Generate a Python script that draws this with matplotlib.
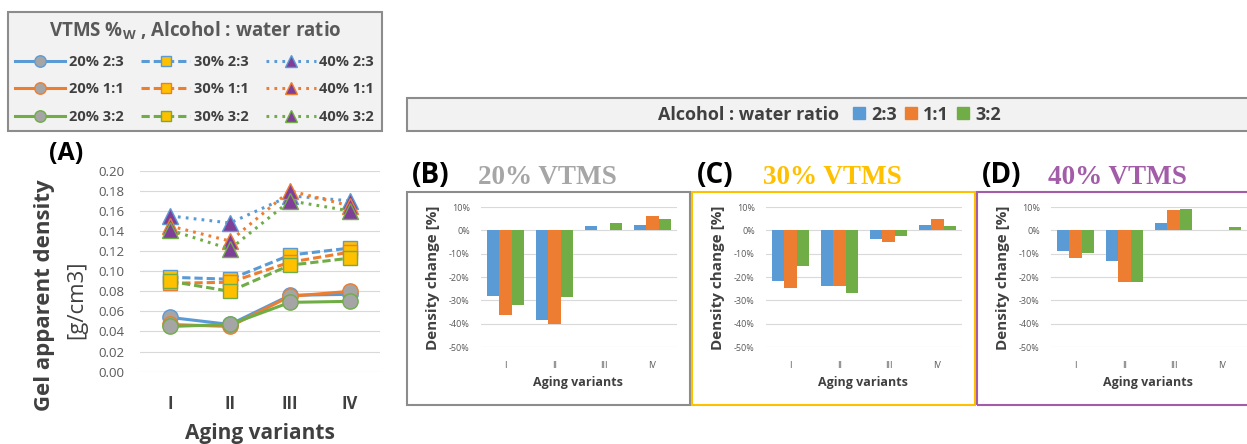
import numpy as np
import matplotlib.pyplot as plt
from matplotlib.patches import Rectangle, Patch

plt.rcParams['font.family'] = ['Open Sans', 'DejaVu Sans']

# ---- data ----
variants = ['I', 'II', 'III', 'IV']
ratios = ['2:3', '1:1', '3:2']

# (A) gel apparent density [g/cm3]; rows = 2:3, 1:1, 3:2
dens_20 = [[0.054, 0.047, 0.076, 0.077],
           [0.047, 0.045, 0.075, 0.080],
           [0.045, 0.047, 0.069, 0.070]]
dens_30 = [[0.094, 0.092, 0.116, 0.123],
           [0.088, 0.089, 0.109, 0.119],
           [0.090, 0.080, 0.106, 0.113]]
dens_40 = [[0.155, 0.148, 0.175, 0.170],
           [0.145, 0.130, 0.180, 0.165],
           [0.141, 0.122, 0.170, 0.160]]

# (B)-(D) density change [%]; rows = 2:3, 1:1, 3:2
chg_20 = [[-28.1, -38.3, 1.7, 2.3],
          [-36.4, -40.3, 0.0, 6.1],
          [-32.1, -28.6, 3.1, 4.7]]
chg_30 = [[-21.9, -24.0, -3.9, 2.1],
          [-24.6, -23.7, -5.0, 4.7],
          [-15.4, -26.7, -2.6, 1.7]]
chg_40 = [[-8.9, -13.3, 3.3, 0.0],
          [-11.7, -22.1, 8.9, 0.0],
          [-9.7, -22.3, 9.0, 1.6]]

colors = ['#5b9bd5', '#ed7d31', '#70ad47']
W, H = 1247, 444


def box(x0, y0, x1, y1):
    # pixel box (top-left origin) -> figure fraction
    return [x0 / W, 1 - y1 / H, (x1 - x0) / W, (y1 - y0) / H]


fig = plt.figure(figsize=(12.47, 4.44), dpi=100)

# ---- panel A ----
axA = fig.add_axes(box(140, 170.7, 380, 371.7))
x = np.arange(len(variants))
groups = [('20%', dens_20, '-', 'o', '#a5a5a5', 11),
          ('30%', dens_30, (0, (2.7, 1.3)), 's', '#ffc000', 10),
          ('40%', dens_40, (0, (0.9, 1.7)), '^', '#7f3f98', 11)]
handles, labels = [], []
for pct, rows, ls, mk, mfc, ms in groups:
    for j, c in enumerate(colors):
        ln, = axA.plot(x, rows[j], linestyle=ls, color=c, lw=2.2, marker=mk,
                       ms=ms, mfc=mfc, mec=c, mew=1, clip_on=False)
        handles.append(ln)
        labels.append(f'{pct} {ratios[j]}')
axA.set_xlim(-0.5, 3.5)
axA.set_ylim(0, 0.2)
axA.set_yticks(np.arange(0, 0.201, 0.02))
axA.set_yticklabels([f'{v:.2f}' for v in np.arange(0, 0.201, 0.02)])
axA.set_xticks(x)
axA.set_xticklabels(variants, fontsize=12, fontweight='bold', color='#404040')
axA.tick_params(axis='y', length=0, pad=11, labelsize=9.5, labelcolor='#595959')
axA.tick_params(axis='x', length=0, pad=17)
axA.grid(axis='y', color='#d9d9d9', lw=0.8)
axA.set_axisbelow(True)
for s in axA.spines.values():
    s.set_visible(False)

fig.text(66 / W, 1 - 154 / H, '(A)', fontsize=18, fontweight='bold', ha='center', va='center')
fig.text(45 / W, 1 - 295 / H, 'Gel apparent density', rotation=90, fontsize=16,
         fontweight='bold', color='#404040', ha='center', va='center')
fig.text(77 / W, 1 - 300 / H, '[g/cm3]', rotation=90, fontsize=16,
         color='#404040', ha='center', va='center')
fig.text(260 / W, 1 - 433 / H, 'Aging variants', fontsize=15, fontweight='bold',
         color='#404040', ha='center', va='center')

leg = fig.legend(handles, labels, ncol=3, loc='upper left',
                 bbox_to_anchor=(8 / W, 1 - 12 / H), borderaxespad=0,
                 title='VTMS %$_\\mathregular{W}$ , Alcohol : water ratio',
                 prop=dict(weight='bold', size=10.5),
                 title_fontproperties=dict(weight='bold', size=13.5),
                 frameon=True, fancybox=False, facecolor='#f2f2f2',
                 edgecolor='#8c8c8c', framealpha=1, handlelength=3.4,
                 columnspacing=1.2, labelspacing=0.92, borderpad=0.5,
                 handletextpad=0.25, markerscale=0.75)
leg.get_frame().set_linewidth(1.5)
leg.get_title().set_color('#595959')
for t in leg.get_texts():
    t.set_color('#404040')

# ---- top right legend ----
fig.add_artist(Rectangle((407 / W, 1 - 131 / H), (W + 5 - 407) / W, 33 / H,
                         transform=fig.transFigure, facecolor='#f2f2f2',
                         edgecolor='#8c8c8c', lw=1.5))
fig.text(839 / W, 1 - 114.5 / H, 'Alcohol : water ratio', fontsize=13,
         fontweight='bold', color='#404040', ha='right', va='center')
fig.legend([Patch(color=c) for c in colors], ratios, ncol=3, loc='center left',
           bbox_to_anchor=(846 / W, 1 - 114.5 / H), frameon=False, borderaxespad=0,
           prop=dict(weight='bold', size=13), handlelength=0.65, handleheight=0.65,
           handletextpad=0.35, columnspacing=0.45, labelcolor='#404040')

# ---- panels B-D ----
panels = [('(B)', '20% VTMS', '#a6a6a6', '#8c8c8c', chg_20, 0),
          ('(C)', '30% VTMS', '#ffc000', '#ffc000', chg_30, 285),
          ('(D)', '40% VTMS', '#a25ca8', '#a25ca8', chg_40, 570)]
for tag, title, tcol, ecol, data, off in panels:
    fig.add_artist(Rectangle(((407 + off) / W, 1 - 405 / H), 283 / W, 213 / H,
                             transform=fig.transFigure, facecolor='none',
                             edgecolor=ecol, lw=1.5))
    ax = fig.add_axes(box(481 + off, 207, 677 + off, 347))
    for j, c in enumerate(colors):
        ax.bar(x + (j - 1) * 0.25, data[j], width=0.25, color=c)
    ax.set_xlim(-0.5, 3.5)
    ax.set_ylim(-50, 10)
    yt = np.arange(-50, 11, 10)
    ax.set_yticks(yt)
    ax.set_yticklabels([f'{v}%' for v in yt])
    ax.set_xticks(x)
    ax.set_xticklabels(variants)
    ax.tick_params(length=0, labelsize=6.5, labelcolor='#595959')
    ax.tick_params(axis='y', pad=8)
    ax.tick_params(axis='x', pad=10)
    ax.grid(axis='y', color='#d9d9d9', lw=0.8)
    ax.set_axisbelow(True)
    for s in ax.spines.values():
        s.set_visible(False)
    fig.text((433 + off) / W, 1 - 278 / H, 'Density change [%]', rotation=90,
             fontsize=11, fontweight='bold', color='#404040', ha='center', va='center')
    fig.text((578 + off) / W, 1 - 382 / H, 'Aging variants', fontsize=9,
             fontweight='bold', color='#404040', ha='center', va='center')
    fig.text((412 + off) / W, 1 - 175 / H, tag, fontsize=20, fontweight='bold',
             ha='left', va='center')
    fig.text((478 + off) / W, 1 - 177 / H, title, fontsize=19.5, fontweight='bold',
             family='Liberation Serif', color=tcol, ha='left', va='center')

plt.savefig('out.png', dpi=100)
